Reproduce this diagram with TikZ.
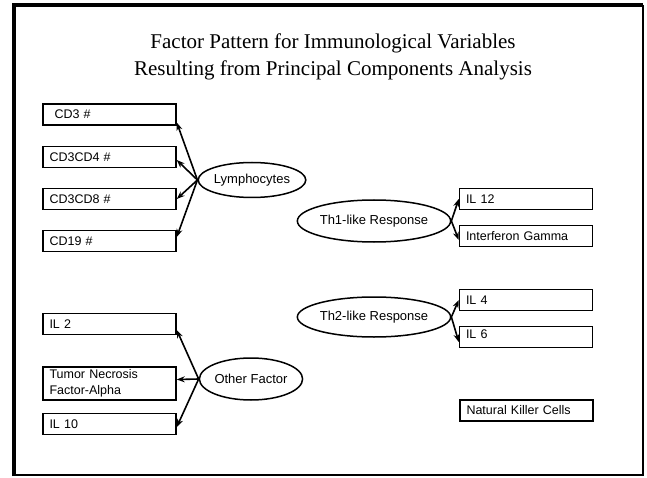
\documentclass[tikz,border=0pt]{standalone}
\usepackage{fontspec}
\setmainfont{Liberation Serif}
\setsansfont{Liberation Sans}
\usetikzlibrary{shapes.geometric,arrows.meta}

\begin{document}
\begin{tikzpicture}[x=1pt, y=-1pt,
    varbox/.style={draw, line width=1.5pt, text width=120pt, inner xsep=6.5pt, inner ysep=2pt, minimum height=21pt, align=left, font=\sffamily\fontsize{12.5}{16}\selectfont},
    factor/.style={draw, ellipse, line width=1.5pt, inner sep=0pt, font=\sffamily\fontsize{13}{15}\selectfont},
    load/.style={line width=1.6pt, -{Stealth[length=8pt,width=6pt]}}]
            \useasboundingbox (0,0) rectangle (647,478);
            \draw[line width=4pt] (14,476) -- (14,5) -- (643,5);
            \draw[line width=2pt] (643,5) -- (643,475) -- (14,475);
            \node[font=\fontsize{21}{27}\selectfont, align=center] (title) at (333,57) {Factor Pattern for Immunological Variables\\Resulting from Principal Components Analysis};
            \node[varbox] (cd3) at (109.5,114.5) {\hspace{5pt}CD3 \#};
            \node[varbox] (cd4) at (109.5,157) {CD3CD4 \#};
            \node[varbox] (cd8) at (109.5,199) {CD3CD8 \#};
            \node[varbox] (cd19) at (109.5,241) {CD19 \#};
            \node[factor, minimum width=101pt, minimum height=35pt] (lym) at (252,180) {Lymphocytes};
            \node[varbox] (il2) at (109.5,324) {IL 2};
            \node[varbox, minimum height=33pt] (tnf) at (109.5,383.5) {Tumor Necrosis\\Factor-Alpha};
            \node[varbox] (il10) at (109.5,424) {IL 10};
            \node[factor, minimum width=93pt, minimum height=42pt] (other) at (251,379) {Other Factor};
            \node[factor, minimum width=125pt, minimum height=42pt] (th1) at (374,221) {Th1-like Response};
            \node[factor, minimum width=125pt, minimum height=40pt] (th2) at (374,317) {Th2-like Response};
            \node[varbox] (il12) at (526,199) {IL 12};
            \node[varbox] (ifn) at (526,236) {Interferon Gamma};
            \node[varbox] (il4) at (526,300) {IL 4};
            \node[varbox] (il6) at (526,337) {\raisebox{5pt}{IL 6}};
            \node[varbox] (nk) at (526.5,410.5) {Natural Killer Cells};
            \draw[load] (lym.west) -- ([yshift=-8pt]cd3.east);
            \draw[load] (lym.west) -- ([yshift=-3pt]cd4.east);
            \draw[load] (lym.west) -- (cd8.east);
            \draw[load] (lym.west) -- ([yshift=4pt]cd19.east);
            \draw[load] (other.west) -- ([yshift=-6pt]il2.east);
            \draw[load] (other.west) -- ([yshift=4pt]tnf.east);
            \draw[load] (other.west) -- ([yshift=-3pt]il10.east);
            \draw[load] (th1.east) -- (il12.west);
            \draw[load] (th1.east) -- ([yshift=-4pt]ifn.west);
            \draw[load] (th2.east) -- (il4.west);
            \draw[load] (th2.east) -- ([yshift=-5pt]il6.west);
        \end{tikzpicture}
\end{document}
